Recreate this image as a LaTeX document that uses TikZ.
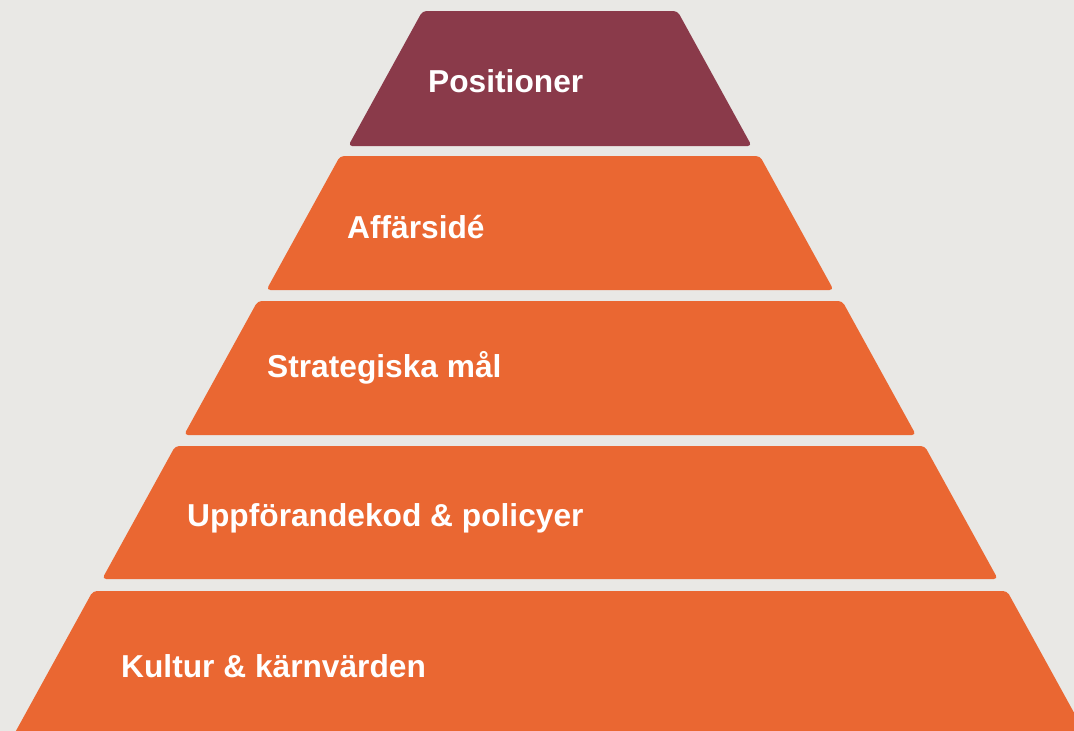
\documentclass[tikz,border=0pt]{standalone}
\usepackage{fontspec}
\setmainfont{Liberation Sans}
\usepackage{xcolor}
\usepackage{tikz}
\definecolor{cbg}{RGB}{233,232,229}
\definecolor{cwine}{RGB}{138,58,74}
\definecolor{corange}{RGB}{234,103,50}

\begin{document}
\begin{tikzpicture}[
  x=1pt, y=-1pt,
  tier/.style = {fill=#1, rounded corners=4pt},
  tierlbl/.style = {anchor=base west, inner sep=0pt, text=white,
                    font=\fontsize{31.7}{37}\selectfont\bfseries},
]
% Page and background
\useasboundingbox (0,0) rectangle (1074,731);
\fill[cbg] (0,0) rectangle (1074,731);
\clip (0,0) rectangle (1074,731);
% Tiers: index / colour / bottom y / text x / baseline / name / label
\foreach \i/\col/\ybot/\tx/\ty/\name/\txt in {
    1/cwine/146/428/92/pos/Positioner,
    2/corange/290/347/238.5/aff/Affärsidé,
    3/corange/435/267/377/mal/Strategiska mål,
    4/corange/579/187/526.5/kod/Uppförandekod \& policyer,
    5/corange/800/121/677.5/kul/Kultur \& kärnvärden} {
  \pgfmathsetmacro{\ytop}{11+145*(\i-1)}
  \pgfmathsetmacro{\hw}{127.5+82.4*(\i-1)}
  \pgfmathsetmacro{\hb}{\hw+0.55*(\ybot-\ytop)}
  \fill[tier=\col] (550-\hw,\ytop) -- (550+\hw,\ytop)
                -- (550+\hb,\ybot) -- (550-\hb,\ybot) -- cycle;
  \node[tierlbl] (\name) at (\tx,\ty) {\txt};
}
\end{tikzpicture}
\end{document}
